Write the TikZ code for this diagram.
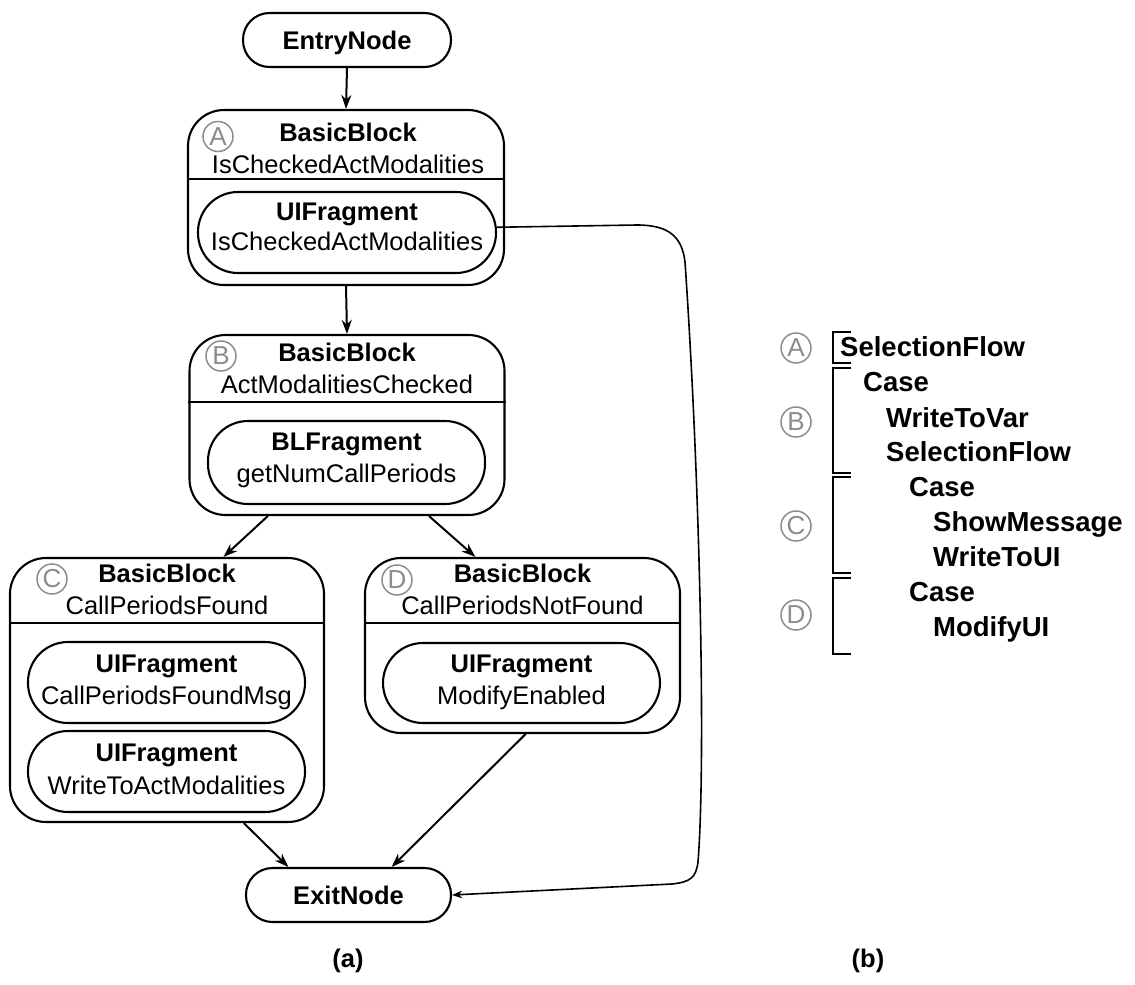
\documentclass[tikz,border=0pt]{standalone}
\usepackage{fontspec}
\setmainfont{Liberation Sans}
\usetikzlibrary{arrows.meta}

\definecolor{tagc}{gray}{0.55}

\tikzset{
  blockbox/.style={draw, line width=2.1pt, rounded corners=36pt, inner sep=0pt},
  pillbox/.style={draw, line width=2.1pt, rounded corners=40pt, inner sep=0pt},
  termbox/.style={draw, line width=2.1pt, rounded corners=26.5pt, inner sep=0pt,
    minimum height=54pt, text height=18.5pt, text depth=0pt,
    font=\fontsize{25.5}{30}\selectfont\bfseries},
  divider/.style={line width=2.1pt},
  txtbase/.style={inner sep=0pt, text height=18.5pt, text depth=0pt},
  ttl/.style={txtbase, font=\fontsize{25.5}{30}\selectfont\bfseries},
  nm/.style={txtbase, font=\fontsize{25.5}{30}\selectfont},
  tag/.style={circle, draw=tagc, line width=1.5pt, minimum size=30pt, inner sep=0pt,
    text=tagc, font=\fontsize{26}{26}\selectfont},
  treeline/.style={inner sep=0pt, anchor=west, text height=19.8pt, text depth=0pt,
    font=\fontsize{27.5}{30}\selectfont\bfseries},
  brk/.style={line width=2pt},
  arr/.style={line width=2pt, -{Stealth[length=14pt,width=10pt,inset=4.5pt]}},
  backarr/.style={line width=1.6pt, -{Stealth[length=10pt,width=7.5pt,inset=3pt]}},
}

\begin{document}
\begin{tikzpicture}[x=1pt,y=-1pt]
\useasboundingbox (0,0) rectangle (1135,985);

% ---------- (a) control flow graph ----------
\node[termbox, minimum width=208pt] (entry) at (347,40) {EntryNode};

% block A
\node[blockbox, minimum width=316pt, minimum height=175pt] (A) at (346,197.5) {};
\draw[divider] (A.west |- 0,179) -- (A.east |- 0,179);
\node[ttl] (Attl) at (348,132) {BasicBlock};
\node[nm] (Anm) at (348,164) {IsCheckedActModalities};
\node[tag] (Atag) at (218,136.5) {A};
\node[pillbox, minimum width=298pt, minimum height=81pt] (Ain) at (347,232.5) {};
\node[ttl] (Ainttl) at (347,211) {UIFragment};
\node[nm] (Ainnm) at (347,241) {IsCheckedActModalities};

% block B
\node[blockbox, minimum width=315pt, minimum height=180pt] (B) at (347,425) {};
\draw[divider] (B.west |- 0,402) -- (B.east |- 0,402);
\node[ttl] (Bttl) at (347,352) {BasicBlock};
\node[nm] (Bnm) at (347,384) {ActModalitiesChecked};
\node[tag] (Btag) at (221,356) {B};
\node[pillbox, minimum width=277pt, minimum height=83pt] (Bin) at (346.5,462.5) {};
\node[ttl] (Binttl) at (346.5,441) {BLFragment};
\node[nm] (Binnm) at (346.5,473) {getNumCallPeriods};

% block C
\node[blockbox, minimum width=314pt, minimum height=264pt] (C) at (167,690) {};
\draw[divider] (C.west |- 0,623) -- (C.east |- 0,623);
\node[ttl] (Cttl) at (167,573) {BasicBlock};
\node[nm] (Cnm) at (167,605) {CallPeriodsFound};
\node[tag] (Ctag) at (52,579) {C};
\node[pillbox, minimum width=277pt, minimum height=81pt] (Cin1) at (166.5,682.5) {};
\node[ttl] (Cin1ttl) at (166.5,663) {UIFragment};
\node[nm] (Cin1nm) at (166.5,695) {CallPeriodsFoundMsg};
\node[pillbox, minimum width=277pt, minimum height=81pt] (Cin2) at (166.5,771.5) {};
\node[ttl] (Cin2ttl) at (166.5,752) {UIFragment};
\node[nm] (Cin2nm) at (166.5,785) {WriteToActModalities};

% block D
\node[blockbox, minimum width=315pt, minimum height=175pt] (D) at (522.5,645.5) {};
\draw[divider] (D.west |- 0,623) -- (D.east |- 0,623);
\node[ttl] (Dttl) at (522.5,573) {BasicBlock};
\node[nm] (Dnm) at (522.5,605) {CallPeriodsNotFound};
\node[tag] (Dtag) at (397,580) {D};
\node[pillbox, minimum width=277pt, minimum height=80pt] (Din) at (521.5,683) {};
\node[ttl] (Dinttl) at (521.5,663) {UIFragment};
\node[nm] (Dinnm) at (521.5,695) {ModifyEnabled};

\node[termbox, minimum width=205pt] (exit) at (348.5,895) {ExitNode};

% edges
\draw[arr] (entry.south) -- (A.north);
\draw[arr] (A.south) -- (B.north);
\draw[arr] (B.229.4) -- (C.67);
\draw[arr] (B.312.7) -- (D.118);
\draw[arr] (C.-60.7) -- (exit.155.9);
\draw[arr] (D.-88.4) -- (exit.33.7);
\draw[backarr] (Ain.2) -- (637,225)
  .. controls (668,225) and (682,236) .. (685,262)
  .. controls (700,480) and (706,760) .. (698,862)
  .. controls (696,878) and (690,882) .. (672,884)
  -- (exit.east);

\node[ttl] (capa) at (348,958) {(a)};

% ---------- (b) nested structure ----------
\node[tag] (tA) at (796,348) {A};
\node[tag] (tB) at (796,422) {B};
\node[tag] (tC) at (796,526) {C};
\node[tag] (tD) at (796,615) {D};

\draw[brk] (851,332) -- (833,332) -- (833,363) -- (851,363);
\draw[brk] (851,368) -- (833,368) -- (833,473) -- (851,473);
\draw[brk] (851,477) -- (833,477) -- (833,573) -- (851,573);
\draw[brk] (851,578) -- (833,578) -- (833,654) -- (851,654);

\node[treeline] (l1) at (840,347) {SelectionFlow};
\node[treeline] (l2) at (863,382) {Case};
\node[treeline] (l3) at (886,418) {WriteToVar};
\node[treeline] (l4) at (886,452) {SelectionFlow};
\node[treeline] (l5) at (909,487) {Case};
\node[treeline] (l6) at (933,522) {ShowMessage};
\node[treeline] (l7) at (933,557) {WriteToUI};
\node[treeline] (l8) at (909,592) {Case};
\node[treeline] (l9) at (933,627) {ModifyUI};

\node[ttl] (capb) at (868,958) {(b)};
\end{tikzpicture}
\end{document}
